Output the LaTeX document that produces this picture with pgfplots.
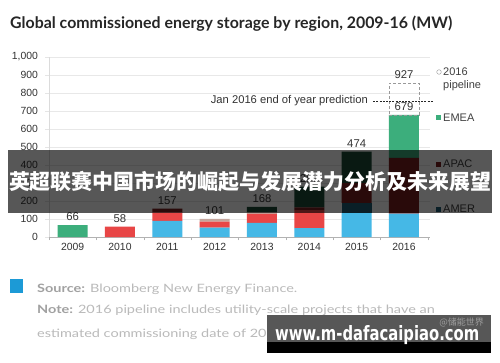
\documentclass[border=0pt]{standalone}
\usepackage{fontspec}
\setmainfont{Liberation Sans}
\newfontfamily\titlefont{Lato}
\newfontfamily\cjk{Noto Sans CJK SC}
\newfontfamily\wmfont{DejaVu Sans}
\usepackage{graphicx}
\usepackage{pgfplots}
\pgfplotsset{compat=1.18}
\definecolor{cLB}{RGB}{69,184,230}
\definecolor{cDT}{RGB}{30,91,115}
\definecolor{cRD}{RGB}{232,70,70}
\definecolor{cDR}{RGB}{122,30,30}
\definecolor{cTN}{RGB}{196,165,156}
\definecolor{cDG}{RGB}{28,74,54}
\definecolor{cGR}{RGB}{60,174,124}
\definecolor{cBL}{RGB}{28,154,214}
\begin{document}
\begin{tikzpicture}[x=1pt,y=1pt]
\fill[white] (0,0) rectangle (500,362);
\path[use as bounding box] (0,0) rectangle (500,362);
\node[anchor=base west, inner sep=0, text=black!85] at (10,333) {\resizebox{442pt}{!}{\titlefont\bfseries Global commissioned energy storage by region, 2009-16 (MW)}};

\pgfplotsset{common/.style={
  scale only axis, width=381pt, height=180pt,
  at={(49pt,125pt)}, anchor=south west,
  xmin=-0.5, xmax=7.55, ymin=0, ymax=1000,
  bar width=30pt, clip=false,
}}

\begin{axis}[common, ybar stacked,
  xtick={0,...,7}, xticklabels={2009,2010,2011,2012,2013,2014,2015,2016},
  minor xtick={-0.5,0.5,...,7.5},
  ytick={0,100,...,1000}, scaled y ticks=false,
  tick align=outside, major tick length=4pt, minor tick length=3pt,
  tick style={draw=black!30},
  major x tick style={draw=none},
  major y tick style={draw=black!10},
  ymajorgrids, grid style={draw=black!9},
  axis x line*=bottom, axis y line*=left,
  y axis line style={draw=black!14}, x axis line style={draw=black!30},
  ticklabel style={font=\fontsize{10.4}{12}\selectfont, text=black!80},
  /pgf/number format/assume math mode=true,
  yticklabel style={xshift=-3.5pt},
  xticklabel style={yshift=1.5pt},
]
\addplot[fill=cLB, draw=none] coordinates {(0,0) (1,0) (2,90) (3,52) (4,78) (5,50) (6,133) (7,130)};
\addplot[fill=cDT, draw=none] coordinates {(0,0) (1,0) (2,0) (3,0) (4,0) (5,0) (6,56) (7,0)};
\addplot[fill=cRD, draw=none] coordinates {(0,0) (1,58) (2,47) (3,33) (4,50) (5,100) (6,0) (7,0)};
\addplot[fill=cDR, draw=none] coordinates {(0,0) (1,0) (2,20) (3,0) (4,0) (5,15) (6,111) (7,310)};
\addplot[fill=cTN, draw=none] coordinates {(0,0) (1,0) (2,0) (3,16) (4,10) (5,0) (6,0) (7,0)};
\addplot[fill=cDG, draw=none] coordinates {(0,0) (1,0) (2,0) (3,0) (4,30) (5,115) (6,174) (7,0)};
\addplot[fill=cGR, draw=none] coordinates {(0,66) (1,0) (2,0) (3,0) (4,0) (5,0) (6,0) (7,239)};
\end{axis}

% pipeline (2016), stacked on the 2016 total
\begin{axis}[common, ybar stacked, hide axis]
\addplot[draw=none, fill=none] coordinates {(7,679)};
\addplot[fill=none, draw=black!40, densely dashed] coordinates {(7,176)};
\end{axis}

% totals labels and prediction line
\begin{axis}[common, ybar, bar shift=0pt, hide axis,
  nodes near coords, point meta=explicit symbolic,
  every node near coord/.append style={font=\fontsize{11.3}{13}\selectfont, text=black!80, anchor=south, yshift=0.5pt, draw=none, solid}]
\addplot[draw=none, fill=none]
  coordinates {(0,66)[66] (1,58)[58] (2,157)[157] (3,101)[101] (4,168)[168] (5,280)[280] (6,474)[474] (7,679)[679] (7,855)[927]};
\draw[black!85, line width=0.8pt, dash pattern=on 2pt off 1.2pt] (axis cs:6.35,755) -- (axis cs:7.61,755);
\node[anchor=east, inner sep=0, font=\fontsize{11.2}{13}\selectfont, text=black!80] at (axis cs:6.24,755) {Jan 2016 end of year prediction};
\end{axis}

% legend
\draw[black!40] (439,290) circle (2.3);
\node[anchor=west, inner sep=0, font=\fontsize{11}{13}\selectfont, text=black!75] at (443,290) {2016};
\node[anchor=west, inner sep=0, font=\fontsize{11}{13}\selectfont, text=black!75] at (443,276) {pipeline};
\fill[cGR] (435.5,241.5) rectangle (440.5,246.5);
\node[anchor=west, inner sep=0, font=\fontsize{11}{13}\selectfont, text=black!75] at (443,244) {EMEA};
\fill[cDR] (435.5,195.5) rectangle (440.5,200.5);
\node[anchor=west, inner sep=0, font=\fontsize{11}{13}\selectfont, text=black!75] at (443,198) {APAC};
\fill[cDT] (435.5,150.5) rectangle (440.5,155.5);
\node[anchor=west, inner sep=0, font=\fontsize{11}{13}\selectfont, text=black!75] at (443,153) {AMER};

% footer
\fill[cBL] (10,69) rectangle (23,83);
\node[anchor=base west, inner sep=0, text=black!27] at (37,70) {\scalebox{1.26}[1]{\titlefont\fontsize{11.5}{13}\selectfont\textbf{\color{black!37}Source:} Bloomberg New Energy Finance.}};
\node[anchor=base west, inner sep=0, text=black!27] at (37,49) {\scalebox{1.26}[1]{\titlefont\fontsize{11.5}{13}\selectfont\textbf{\color{black!37}Note:} 2016 pipeline includes utility-scale projects that have an}};
\node[anchor=base west, inner sep=0, text=black!27] at (37,25) {\scalebox{1.26}[1]{\titlefont\fontsize{11.5}{13}\selectfont estimated commissioning date of 2016.}};

% banner overlay
\fill[black, opacity=0.66] (8,149) rectangle (492,212);
\node[text=white, inner sep=0] at (250,180.5) {\resizebox{482pt}{!}{\cjk\bfseries 英超联赛中国市场的崛起与发展潜力分析及未来展望}};

% watermark
\fill[black!66] (267,20) rectangle (491,47);
\fill[black] (267,9) rectangle (491,20);
\node[anchor=east, inner sep=0, text=black!38, font=\cjk\fontsize{9}{10}\selectfont] at (484,40) {@储能世界};
\node[anchor=base west, inner sep=0, text=white] at (275,22) {\resizebox{204pt}{15pt}{\wmfont\bfseries www.m-dafacaipiao.com}};
\end{tikzpicture}
\end{document}
